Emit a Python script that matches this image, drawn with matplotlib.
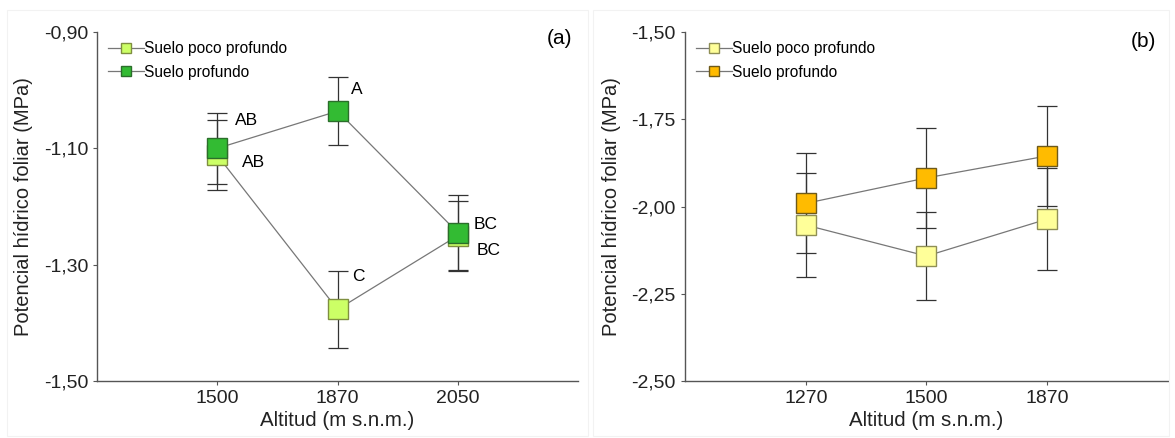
import matplotlib
matplotlib.use("Agg")
import matplotlib.pyplot as plt
from matplotlib.lines import Line2D

plt.rcParams['font.family'] = ['Liberation Sans', 'DejaVu Sans']

# Panel (a)
alt_a = ["1500", "1870", "2050"]
shallow_a = [-1.112, -1.377, -1.250]
shallow_a_err = [0.060, 0.066, 0.060]
deep_a = [-1.100, -1.036, -1.245]
deep_a_err = [0.061, 0.059, 0.064]
letters_shallow_a = ["AB", "C", "BC"]
letters_deep_a = ["AB", "A", "BC"]

# Panel (b)
alt_b = ["1270", "1500", "1870"]
shallow_b = [-2.053, -2.142, -2.036]
shallow_b_err = [0.148, 0.127, 0.145]
deep_b = [-1.991, -1.918, -1.855]
deep_b_err = [0.143, 0.144, 0.143]

yticks_a = [-0.90, -1.10, -1.30, -1.50]
yticks_b = [-1.50, -1.75, -2.00, -2.25, -2.50]

fig = plt.figure(figsize=(11.75, 4.38), dpi=100)
ax_a = fig.add_axes([0.0826, 0.1301, 0.4094, 0.7968])
ax_b = fig.add_axes([0.5830, 0.1301, 0.4110, 0.7968])

# faint panel frames
for x0, w in [(0.006, 0.494), (0.505, 0.490)]:
    fig.add_artist(plt.Rectangle((x0, 0.005), w, 0.972, transform=fig.transFigure,
                                 fill=False, edgecolor='#f2f2f2', lw=0.8))

axis_col = '#555555'
line_col = '#777777'
err_col = '#333333'


def draw_series(ax, vals, errs, face, edge):
    xs = range(1, len(vals) + 1)
    ax.plot(xs, vals, color=line_col, lw=0.9, zorder=2)
    ax.errorbar(xs, vals, yerr=errs, fmt='none', ecolor=err_col, elinewidth=0.9,
                capsize=7.5, capthick=0.9, zorder=3)
    ax.plot(xs, vals, ls='none', marker='s', ms=15, mfc=face, mec=edge, mew=1.0, zorder=4)


def style_axes(ax, cats, yticks, ylim, fmt):
    ax.set_xlim(0, 4)
    ax.set_ylim(*ylim)
    ax.set_xticks([1, 2, 3])
    ax.set_xticklabels(cats)
    ax.set_yticks(yticks)
    ax.set_yticklabels([fmt(v) for v in yticks])
    for s in ['top', 'right']:
        ax.spines[s].set_visible(False)
    for s in ['left', 'bottom']:
        ax.spines[s].set_color(axis_col)
        ax.spines[s].set_linewidth(1.0)
    ax.tick_params(axis='both', colors=axis_col, labelcolor='#222222', labelsize=14,
                   length=3, width=0.8, direction='out')
    ax.set_xlabel("Altitud (m s.n.m.)", fontsize=14.8, color='#222222', labelpad=3)
    ax.set_ylabel("Potencial hídrico foliar (MPa)", fontsize=14.5, color='#222222', labelpad=8)


def legend(ax, face_s, edge_s, face_d, edge_d):
    handles = [
        Line2D([0], [0], color=line_col, lw=0.9, marker='s', ms=7, mfc=face_s, mec=edge_s),
        Line2D([0], [0], color=line_col, lw=0.9, marker='s', ms=7, mfc=face_d, mec=edge_d),
    ]
    ax.legend(handles, ["Suelo poco profundo", "Suelo profundo"], loc='upper left',
              bbox_to_anchor=(0.0, 1.005), frameon=False, fontsize=11.2,
              handlelength=2.3, handletextpad=0.0, labelspacing=0.55, borderaxespad=0.3)


fmt_a = lambda v: f"{v:.2f}".replace('.', ',')
fmt_b = lambda v: f"{v:.2f}".replace('.', ',')

# ----- (a)
draw_series(ax_a, shallow_a, shallow_a_err, '#ccff66', '#7f8f40')
draw_series(ax_a, deep_a, deep_a_err, '#33bb33', '#2b6e2b')
style_axes(ax_a, alt_a, yticks_a, (-1.50, -0.90), fmt_a)
legend(ax_a, '#ccff66', '#7f8f40', '#33bb33', '#2b6e2b')
ax_a.text(0.962, 1.010, "(a)", transform=ax_a.transAxes, fontsize=15, ha='center', va='top')

offs_deep = [(18, 28), (13, 22), (16, 8)]
offs_shallow = [(25, -7), (15, 33), (19, -15)]
for i, (lab, v, off) in enumerate(zip(letters_deep_a, deep_a, offs_deep)):
    ax_a.annotate(lab, (i + 1, v), xytext=off, textcoords='offset pixels',
                  fontsize=12.5, ha='left', va='center', zorder=5)
for i, (lab, v, off) in enumerate(zip(letters_shallow_a, shallow_a, offs_shallow)):
    ax_a.annotate(lab, (i + 1, v), xytext=off, textcoords='offset pixels',
                  fontsize=12.5, ha='left', va='center', zorder=5)

# ----- (b)
draw_series(ax_b, shallow_b, shallow_b_err, '#ffff99', '#8f8f55')
draw_series(ax_b, deep_b, deep_b_err, '#ffbb00', '#6e5a1a')
style_axes(ax_b, alt_b, yticks_b, (-2.50, -1.50), fmt_b)
legend(ax_b, '#ffff99', '#8f8f55', '#ffbb00', '#6e5a1a')
ax_b.text(0.950, 1.000, "(b)", transform=ax_b.transAxes, fontsize=15, ha='center', va='top')

fig.savefig("out.png", dpi=100, facecolor='white')
